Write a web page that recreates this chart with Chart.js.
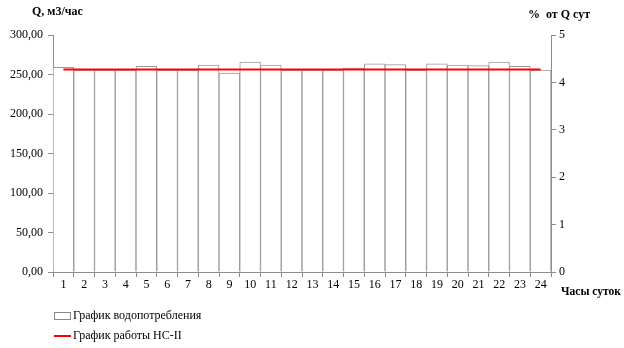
<!DOCTYPE html>
<html>
<head>
<meta charset="utf-8">
<script src="https://cdn.jsdelivr.net/npm/chart.js@4"></script>
<style>
  body { margin: 0; background: #fff; }
  #wrap { position: relative; width: 624px; height: 348px; }
  .legend { position: absolute; left: 54px; font: 12px 'Liberation Serif', serif; color: #000; }
  .legend span { display: inline-block; vertical-align: middle; margin-right: 2px; }
  .box { width: 15px; height: 6px; border: 1px solid #888; background: #fff; }
  .line { width: 17px; height: 2px; background: #ff0000; }
</style>
</head>
<body>
<div id="wrap">
  <canvas id="chart" width="624" height="348"></canvas>
  <div class="legend" style="top:308px"><span class="box"></span>График водопотребления</div>
  <div class="legend" style="top:328px"><span class="line"></span>График работы НС-II</div>
</div>
<script>
// Hours of the day
const hours = ['1', '2', '3', '4', '5', '6', '7', '8', '9', '10', '11', '12',
  '13', '14', '15', '16', '17', '18', '19', '20', '21', '22', '23', '24'];

// Water consumption, m3/h
const consumption = [259.2, 255.5, 255.5, 255.5, 260.5, 255.5, 255.5, 261.8, 251.7, 265.6, 261.8, 255.5,
  255.5, 255.5, 258.0, 263.4, 262.5, 255.5, 263.4, 261.8, 261.3, 265.6, 260.5, 255.5];

// Pump station NS-II operation, m3/h
const pumpRate = [256.2, 256.2, 256.2, 256.2, 256.2, 256.2, 256.2, 256.2, 256.2, 256.2, 256.2, 256.2,
  256.2, 256.2, 256.2, 256.2, 256.2, 256.2, 256.2, 256.2, 256.2, 256.2, 256.2, 256.2];

const axisColor = '#8c8c8c';
const serif = "'Liberation Serif', 'Times New Roman', serif";

// Titles that sit outside the axes
const titlesPlugin = {
  id: 'titles',
  afterDraw(chart) {
    const ctx = chart.ctx;
    ctx.save();
    ctx.fillStyle = '#000';
    ctx.font = 'bold 12px ' + serif;
    ctx.textBaseline = 'middle';
    ctx.textAlign = 'left';
    ctx.fillText('Q, м3/час', 32, 12);
    ctx.fillText('%  от Q сут', 528, 15);
    ctx.fillText('Часы суток', 561, 292, 60);
    ctx.restore();
  }
};

const ctx = document.getElementById('chart').getContext('2d');

new Chart(ctx, {
  type: 'bar',
  data: {
    labels: hours,
    datasets: [
      {
        type: 'line',
        label: 'График работы НС-II',
        data: pumpRate,
        borderColor: '#ff0000',
        borderWidth: 2,
        pointRadius: 0,
        yAxisID: 'y',
        order: 0,
      },
      {
        label: 'График водопотребления',
        data: consumption,
        backgroundColor: '#ffffff',
        borderColor: '#999999',
        borderWidth: { top: 1, left: 1, right: 1, bottom: 0 },
        borderSkipped: false,
        categoryPercentage: 1,
        barPercentage: 1,
        yAxisID: 'y',
        order: 1,
      },
    ],
  },
  options: {
    responsive: false,
    animation: false,
    layout: { padding: { top: 35, left: 0, right: 0, bottom: 0 } },
    plugins: {
      legend: { display: false },
      tooltip: { enabled: false },
    },
    scales: {
      x: {
        offset: true,
        grid: { drawOnChartArea: false, color: axisColor, tickLength: 5, offset: true },
        border: { color: axisColor },
        ticks: { color: '#000', font: { family: serif, size: 12 }, padding: 1, maxRotation: 0, autoSkip: false },
        afterFit(scale) { scale.height = 76; },
      },
      y: {
        min: 0,
        max: 300,
        grid: { drawOnChartArea: false, color: axisColor, tickLength: 5 },
        border: { color: axisColor },
        ticks: {
          stepSize: 50,
          color: '#000',
          font: { family: serif, size: 12 },
          padding: 5,
          callback: v => v.toFixed(2).replace('.', ','),
        },
        afterFit(scale) { scale.width = 53; },
      },
      y1: {
        position: 'right',
        min: 0,
        max: 5,
        grid: { drawOnChartArea: false, color: axisColor, tickLength: 5 },
        border: { color: axisColor },
        ticks: { stepSize: 1, color: '#000', font: { family: serif, size: 12 }, padding: 3 },
        afterFit(scale) { scale.width = 73; },
      },
    },
  },
  plugins: [titlesPlugin],
});
</script>
</body>
</html>
